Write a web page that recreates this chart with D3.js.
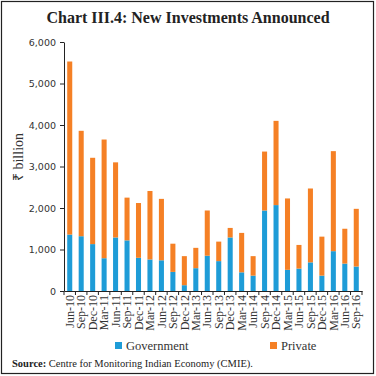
<!DOCTYPE html>
<html><head><meta charset="utf-8">
<script src="https://cdn.jsdelivr.net/npm/d3@7"></script>
<style>
body{margin:0;background:#fff;}
svg{display:block;}
</style></head>
<body>
<svg id="c" width="376" height="376"></svg>
<script>
const categories = ["Jun-10","Sep-10","Dec-10","Mar-11","Jun-11","Sep-11","Dec-11","Mar-12","Jun-12","Sep-12","Dec-12","Mar-13","Jun-13","Sep-13","Dec-13","Mar-14","Jun-14","Sep-14","Dec-14","Mar-15","Jun-15","Sep-15","Dec-15","Mar-16","Jun-16","Sep-16"];
const government = [1360,1320,1130,790,1290,1220,800,760,740,460,140,550,850,720,1290,450,370,1940,2070,510,540,690,370,960,660,590];
const privateInv = [4170,2540,2080,2860,1810,1030,1320,1650,1480,680,700,490,1090,470,230,950,470,1420,2030,1720,570,1780,940,2410,840,1390];
const yTicks = [0,1000,2000,3000,4000,5000,6000];
const seriesNames = ["Government","Private"];
const colors = ["#1e9cd7","#f58025"];

const svg = d3.select("#c");
svg.append("rect").attr("x",1.5).attr("y",1.5).attr("width",372).attr("height",372)
  .attr("fill","none").attr("stroke","#222").attr("stroke-width",1.2);

svg.append("text").attr("x",188).attr("y",23).attr("text-anchor","middle")
  .attr("font-family","Liberation Serif, serif").attr("font-weight","bold").attr("font-size",16)
  .attr("fill","#222").text("Chart III.4: New Investments Announced");

const x = d3.scaleBand().domain(categories).range([64,362]).paddingInner(0.56).paddingOuter(0.28);
const y = d3.scaleLinear().domain([0,6000]).range([291,42]);

const rows = categories.map((c,i)=>({cat:c, Government:government[i], Private:privateInv[i]}));
const stack = d3.stack().keys(seriesNames)(rows);

svg.append("g").selectAll("g").data(stack).join("g").attr("fill",(d,i)=>colors[i])
  .selectAll("rect").data(d=>d).join("rect")
  .attr("x",d=>x(d.data.cat)).attr("width",x.bandwidth())
  .attr("y",d=>y(d[1])).attr("height",d=>y(d[0])-y(d[1]));

// y axis
const ya = svg.append("g").attr("transform","translate(64,0)")
  .call(d3.axisLeft(y).tickValues(yTicks).tickSize(4).tickSizeOuter(0).tickFormat(d3.format(",")));
ya.selectAll("text").attr("font-family","DejaVu Sans, sans-serif").attr("font-size",9.5).attr("fill","#333").attr("dx",-1);
ya.selectAll("line,path").attr("stroke","#222");

// x axis
const xa = svg.append("g").attr("transform","translate(0,291)")
  .call(d3.axisBottom(x).tickSize(0).tickSizeOuter(0));
xa.select("path").attr("stroke","#222");
xa.selectAll("text").attr("font-family","Liberation Serif, serif").attr("font-size",12).attr("fill","#333")
  .attr("text-anchor","end").attr("transform","rotate(-90)").attr("x",-4).attr("y",0).attr("dy","0.35em");
// boundary ticks between bands
const step = x.step();
const bounds = categories.map(c=>x(c)-x.paddingInner()*step/2).concat([x(categories[categories.length-1])+x.bandwidth()+x.paddingInner()*step/2]);
xa.selectAll(".bt").data(bounds).join("line").attr("class","bt")
  .attr("x1",d=>d).attr("x2",d=>d).attr("y1",0).attr("y2",4).attr("stroke","#222");

svg.append("text").attr("transform","translate(23,157) rotate(-90)").attr("text-anchor","middle")
  .attr("font-family","Liberation Serif, serif").attr("font-size",14).attr("fill","#333").text("₹ billion");

// legend
const legX = [115,270];
const lg = svg.append("g").selectAll("g").data(seriesNames).join("g")
  .attr("transform",(d,i)=>`translate(${legX[i]},342)`);
lg.append("rect").attr("width",7).attr("height",7).attr("fill",(d,i)=>colors[i]);
lg.append("text").attr("x",11).attr("y",8).attr("font-family","Liberation Serif, serif").attr("font-size",12.5)
  .attr("fill","#333").text(d=>d);

const src = svg.append("text").attr("x",12).attr("y",367).attr("font-family","Liberation Serif, serif").attr("font-size",10.5).attr("fill","#222");
src.append("tspan").attr("font-weight","bold").text("Source:");
src.append("tspan").text(" Centre for Monitoring Indian Economy (CMIE).");
</script>
</body></html>
